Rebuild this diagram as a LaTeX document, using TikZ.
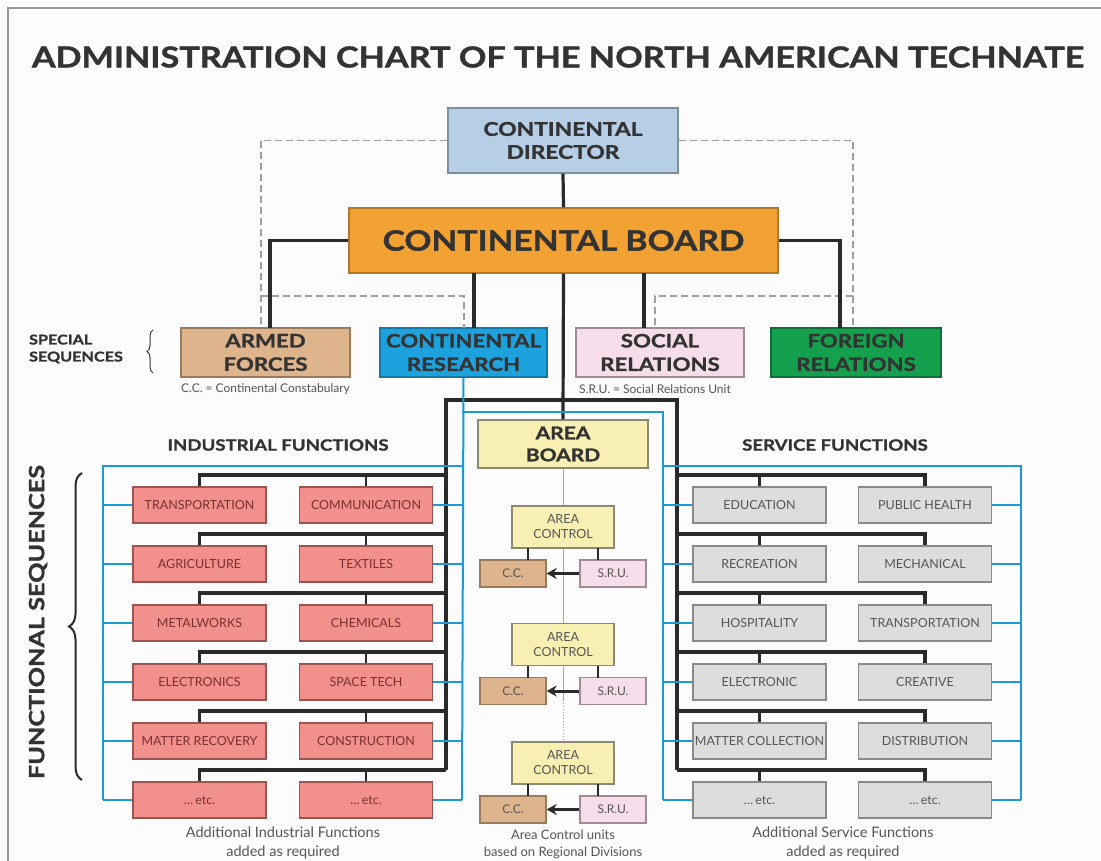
\documentclass[tikz,border=0pt]{standalone}
\usepackage{fontspec}
\setmainfont{Lato}
\newfontfamily\wide[FakeStretch=1.2,FakeBold=1.3]{Lato}
\usetikzlibrary{arrows.meta,decorations.pathreplacing,calc}
\newcommand\etcx{\ldots\,etc.}
\definecolor{txt}{HTML}{333333}
\definecolor{blk}{HTML}{2A2A2A}
\definecolor{blu}{HTML}{1B9AD6}
\definecolor{dirf}{HTML}{B7CFE6}\definecolor{dird}{HTML}{7E8FA0}
\definecolor{brdf}{HTML}{F2A232}\definecolor{brdd}{HTML}{B5782A}
\definecolor{tanf}{HTML}{DDB48C}\definecolor{tand}{HTML}{9A7A5C}
\definecolor{crf}{HTML}{1EA2DE}\definecolor{crd}{HTML}{1478A8}
\definecolor{pnkf}{HTML}{F6DDEA}\definecolor{pnkd}{HTML}{A08A96}
\definecolor{grnf}{HTML}{15A04E}\definecolor{grnd}{HTML}{0E7038}
\definecolor{yelf}{HTML}{F8F0B2}\definecolor{yeld}{HTML}{8C8A70}
\definecolor{indf}{HTML}{F2918C}\definecolor{indd}{HTML}{9A5550}\definecolor{indt}{HTML}{7A3030}
\definecolor{svf}{HTML}{DDDDDD}\definecolor{svd}{HTML}{8A8A8A}\definecolor{svt}{HTML}{555555}
\tikzset{
  box/.style={draw, line width=1.3pt, inner sep=1pt, align=center, text=txt},
  bigbox/.style={box, font=\wide\bfseries\fontsize{19}{23}\selectfont},
  spbox/.style={box, minimum height=49pt, font=\wide\bfseries\fontsize{18.5}{23.5}\selectfont},
  indbox/.style={box, fill=indf, draw=indd, text=indt, minimum width=133pt, minimum height=36pt, font=\fontsize{12.5}{13}\selectfont},
  svbox/.style={box, fill=svf, draw=svd, text=svt, minimum width=133pt, minimum height=36pt, font=\fontsize{12.5}{13}\selectfont},
  acbox/.style={box, fill=yelf, draw=yeld, text=svt, minimum width=102pt, minimum height=42pt, font=\fontsize{12.5}{15}\selectfont},
  ccbox/.style={box, fill=tanf, draw=tand, text=svt, minimum width=66pt, minimum height=27pt, font=\fontsize{12}{13}\selectfont},
  srubox/.style={box, fill=pnkf, draw=pnkd, text=svt, minimum width=66pt, minimum height=27pt, font=\fontsize{12}{13}\selectfont},
  bline/.style={draw=blk, line width=3.2pt},
  bstub/.style={draw=blk, line width=2.6pt},
  uline/.style={draw=blu, line width=2pt},
  dline/.style={draw=gray!75, line width=1.5pt, dash pattern=on 7pt off 4pt},
  aline/.style={draw=gray!70, line width=1pt},
  lbl/.style={text=txt, inner sep=0pt, align=center},
}
\begin{document}
\begin{tikzpicture}[x=1pt,y=-1pt]
\useasboundingbox (0,0) rectangle (1101,861);
\fill[white!98!gray] (0,0) rectangle (1101,861);
\draw[gray!80, line width=1.3pt] (8,8) rectangle (1140,900);

% title
\node[lbl] (title) at (558,57) {\resizebox{1052pt}{21pt}{\wide\bfseries ADMINISTRATION CHART OF THE NORTH AMERICAN TECHNATE}};

% top
\node[bigbox, fill=dirf, draw=dird, minimum width=230pt, minimum height=65pt] (dir) at (563,140.5) {CONTINENTAL\\DIRECTOR};
\node[box, fill=brdf, draw=brdd, minimum width=429pt, minimum height=65pt, font=\wide\bfseries\fontsize{28}{30}\selectfont] (board) at (563.5,240.5) {CONTINENTAL BOARD};

\node[spbox, fill=tanf, draw=tand, minimum width=169pt] (af) at (265.5,352.5) {ARMED\\FORCES};
\node[spbox, fill=crf, draw=crd, minimum width=167pt] (cr) at (463.5,352.5) {CONTINENTAL\\RESEARCH};
\node[spbox, fill=pnkf, draw=pnkd, minimum width=168pt] (sr) at (660,352.5) {SOCIAL\\RELATIONS};
\node[spbox, fill=grnf, draw=grnd, minimum width=170pt] (fr) at (856,352.5) {FOREIGN\\RELATIONS};

\node[lbl, text=svt, font=\fontsize{12}{13}\selectfont] (ccnote) at (265.5,389) {C.C. = Continental Constabulary};
\node[lbl, text=svt, font=\fontsize{12}{13}\selectfont] (srunote) at (655,389) {S.R.U. = Social Relations Unit};

\node[lbl, font=\wide\bfseries\fontsize{13.5}{17}\selectfont, align=left] (special) at (76,349) {SPECIAL\\SEQUENCES};
\draw[txt, line width=1pt, decorate, decoration={brace, amplitude=6pt}] (153,373) -- (153,330);

\node[lbl, rotate=90, font=\wide\bfseries\fontsize{21}{24}\selectfont] (funcseq) at (38,622) {FUNCTIONAL SEQUENCES};
\draw[blk, line width=2pt, decorate, decoration={brace, amplitude=13pt}] (82,780) -- (82,473);

% dashed links
\draw[dline] (dir.west) -| (261,328);
\draw[dline] (dir.east) -| (853,328);
\draw[dline] (261,296) -| (464,328);
\draw[dline] (853,296) -| (655,328);

% black links from board
\draw[bline] (board.west) -| (270,328);
\draw[bline] (board.east) -| (840,328);
\draw[bline] (474,273) -- (474,328);
\draw[bline] (644,273) -- (644,328);
\draw[bline] (dir.south) -- (board.north);

% center column
\node[box, fill=yelf, draw=yeld, minimum width=170pt, minimum height=48pt, font=\wide\bfseries\fontsize{17.5}{22}\selectfont] (ab) at (563,444) {AREA\\BOARD};
\coordinate (tl) at (446,400);
\coordinate (tr) at (677,400);
\draw[bline] (board.south) -- (ab.north);
\draw[bline] (446,770) -- (tl) -- (tr) -- (677,770);

\foreach \i/\y in {1/527,2/644.5,3/763}{
  \node[acbox] (ac\i) at (563,\y) {AREA\\CONTROL};
  \node[ccbox] (cc\i) at (513,\y+46.5) {C.C.};
  \node[srubox] (sru\i) at (613,\y+46.5) {S.R.U.};
  \draw[bstub] (528,\y+21) -- (528,\y+33);
  \draw[bstub] (598,\y+21) -- (598,\y+33);
}
\draw[aline] (ab.south) -- (ac1.north);
\draw[aline] (ac1.south) -- (ac2.north);
\draw[aline] (ac2.south) -- (563,700);
\draw[aline, dotted] (563,700) -- (ac3.north);
\foreach \i in {1,2,3}{
  \draw[blk, line width=3pt, -{Stealth[length=10pt,width=11pt]}] (sru\i.west) -- (cc\i.east);
}

\node[lbl, text=svt, font=\fontsize{13}{17}\selectfont] (acnote) at (563,844) {Area Control units\\based on Regional Divisions};

% headings
\node[lbl, font=\wide\bfseries\fontsize{15.5}{16}\selectfont] (indh) at (278,445) {INDUSTRIAL FUNCTIONS};
\node[lbl, font=\wide\bfseries\fontsize{15.5}{16}\selectfont] (svh) at (835,445) {SERVICE FUNCTIONS};

% function boxes
\foreach \r/\y/\a/\b/\c/\d in {
 1/505/TRANSPORTATION/COMMUNICATION/EDUCATION/PUBLIC HEALTH,
 2/564/AGRICULTURE/TEXTILES/RECREATION/MECHANICAL,
 3/623/METALWORKS/CHEMICALS/HOSPITALITY/TRANSPORTATION,
 4/682/ELECTRONICS/SPACE TECH/ELECTRONIC/CREATIVE,
 5/741/MATTER RECOVERY/CONSTRUCTION/MATTER COLLECTION/DISTRIBUTION,
 6/800/\etcx/\etcx/\etcx/\etcx}{
  \node[indbox] (in\r a) at (199.5,\y) {\a};
  \node[indbox] (in\r b) at (366,\y) {\b};
  \node[svbox] (sv\r a) at (759.5,\y) {\c};
  \node[svbox] (sv\r b) at (925,\y) {\d};
  \draw[bline] (446,\y-30) -| (in\r a.north);
  \draw[bstub] (in\r b.north) -- (366,\y-30);
  \draw[bline] (677,\y-30) -| (sv\r b.north);
  \draw[bstub] (sv\r a.north) -- (759.5,\y-30);
  \draw[uline] (103,\y) -- (in\r a.west);
  \draw[uline] (in\r b.east) -- (462,\y);
  \draw[uline] (663,\y) -- (sv\r a.west);
  \draw[uline] (sv\r b.east) -- (1021,\y);
}

% blue network
\draw[uline] (cr.south) -- (462,800);
\draw[uline] (462,412) -- (663,412) -- (663,800);
\draw[uline] (462,466) -| (103,800);
\draw[uline] (663,466) -| (1021,800);

\node[lbl, text=svt, font=\fontsize{14.5}{19}\selectfont] (indnote) at (283,843) {Additional Industrial Functions\\added as required};
\node[lbl, text=svt, font=\fontsize{14.5}{19}\selectfont] (svnote) at (843,843) {Additional Service Functions\\added as required};
\end{tikzpicture}
\end{document}
